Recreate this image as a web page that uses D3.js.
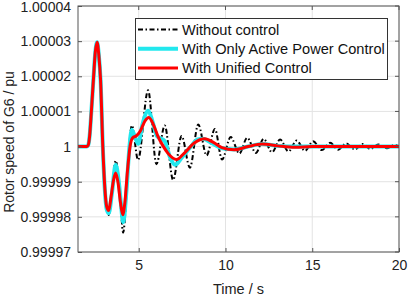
<!DOCTYPE html>
<html><head><meta charset="utf-8">
<script src="https://cdn.jsdelivr.net/npm/d3@7"></script>
<style>body{margin:0;background:#fff}svg{display:block}text{font-family:"Liberation Sans",Arial,sans-serif}</style>
</head><body>
<svg id="c" width="408" height="297"></svg>
<script>
// deviations from 1 pu, in units of 1e-5 pu
const tRed = [1.5,2.0,2.08,2.17,2.27,2.4,2.5,2.6,2.7,2.8,2.93,3.05,3.15,3.27,3.4,3.55,3.67,3.8,3.95,4.08,4.2,4.35,4.5,4.65,4.85,5.1,5.35,5.58,5.85,6.1,6.4,6.7,7.18,7.6,8.2,8.8,9.3,9.8,10.5,11.3,12.1,13,14,15,20];
const dRed = [0,0,0.03,0.3,1.0,2.0,2.7,2.97,2.6,1.9,0,-1.2,-1.7,-1.82,-1.45,-0.95,-0.75,-1.0,-1.6,-1.94,-1.6,-0.7,0.0,0.25,0.3,0.45,0.72,0.83,0.62,0.3,0.02,-0.2,-0.37,-0.2,0.1,0.22,0.12,-0.03,-0.09,0,0.07,0.02,-0.02,0,0];
const tCyan = [1.5,2.0,2.08,2.17,2.27,2.4,2.5,2.6,2.7,2.8,2.93,3.05,3.15,3.27,3.45,3.67,3.85,3.97,4.1,4.3,4.45,4.6,4.8,4.97,5.2,5.55,5.8,6.05,6.5,6.8,7.1,7.5,8.0,8.4,8.7,9.2,9.8,10.5,11.3,12.1,13,14,20];
const dCyan = [0,0,0.03,0.3,1.0,2.0,2.7,2.97,2.6,1.9,0,-1.25,-1.78,-1.9,-1.35,-0.52,-1.0,-1.6,-2.15,-1.2,-0.1,0.48,0.25,0.08,0.6,1.02,0.7,0.3,0.15,-0.3,-0.52,-0.3,0.0,0.2,0.22,0.1,-0.05,-0.08,0,0.07,0.02,0,0];
const tBlack = [1.5,2.0,2.08,2.17,2.27,2.4,2.5,2.6,2.7,2.8,2.93,3.05,3.15,3.27,3.45,3.67,3.85,3.97,4.1,4.3,4.45,4.61,4.96,5.54,6.02,6.5,6.98,7.47,7.95,8.43,8.91,9.39,9.8,10.3,10.8,11.25,11.75,12.2,12.68,13.15,13.63,14.1,14.58,15.05,15.55,16.03,16.5,16.95,17.45,17.9,18.35,18.8,19.3,19.75,20];
const dBlack = [0,0,0.03,0.3,1.0,2.0,2.7,2.97,2.6,1.9,0,-1.25,-1.8,-1.95,-1.3,-0.4,-1.0,-1.75,-2.45,-1.3,0.0,0.6,-0.38,1.6,-0.5,0.6,-0.95,0.3,-0.6,0.63,-0.25,0.5,-0.37,0.27,-0.2,0.25,-0.18,0.22,-0.16,0.2,-0.14,0.17,-0.12,0.15,-0.1,0.11,-0.09,0.09,-0.08,0.07,-0.07,0.06,-0.05,0.05,0];
const xTicks = [5,10,15,20];
const yTicks = [0.99997,0.99998,0.99999,1,1.00001,1.00002,1.00003,1.00004];
const yTickLabels = ["0.99997","0.99998","0.99999","1","1.00001","1.00002","1.00003","1.00004"];
const legendNames = ["Without control","With Only Active Power Control","With Unified Control"];

const svg = d3.select("#c");
const L=78,R=399,T=6,B=252;
const x = d3.scaleLinear().domain([1.5,20]).range([L,R]);
const y = d3.scaleLinear().domain([0.99997,1.00004]).range([B,T]);

// grid
svg.append("g").selectAll("line").data(xTicks).join("line")
  .attr("x1",d=>x(d)).attr("x2",d=>x(d)).attr("y1",T).attr("y2",B)
  .attr("stroke","#e3e3e3").attr("stroke-width",1);
svg.append("g").selectAll("line").data(yTicks).join("line")
  .attr("x1",L).attr("x2",R).attr("y1",d=>y(d)).attr("y2",d=>y(d))
  .attr("stroke","#e3e3e3").attr("stroke-width",1);

const toPts = (ts,ds)=>ts.map((t,i)=>[t,1+ds[i]*1e-5]);
const line = d3.line().x(d=>x(d[0])).y(d=>y(d[1])).curve(d3.curveMonotoneX);
svg.append("clipPath").attr("id","cp").append("rect").attr("x",L).attr("y",T).attr("width",R-L).attr("height",B-T);
const g = svg.append("g").attr("clip-path","url(#cp)");
g.append("path").attr("d",line(toPts(tBlack,dBlack))).attr("fill","none").attr("stroke","#000").attr("stroke-width",2).attr("stroke-dasharray","5,2.5,1.5,2.5");
g.append("path").attr("d",line(toPts(tCyan,dCyan))).attr("fill","none").attr("stroke","#22e8ee").attr("stroke-width",4);
g.append("path").attr("d",line(toPts(tRed,dRed))).attr("fill","none").attr("stroke","#ff0000").attr("stroke-width",3);

// axes
const xAx = d3.axisBottom(x).tickValues(xTicks).tickSizeInner(-4).tickSizeOuter(0).tickPadding(8);
const yAx = d3.axisLeft(y).tickValues(yTicks).tickFormat((d,i)=>yTickLabels[i]).tickSizeInner(-4).tickSizeOuter(0).tickPadding(7);
const gx = svg.append("g").attr("transform",`translate(0,${B})`).call(xAx);
const gy = svg.append("g").attr("transform",`translate(${L},0)`).call(yAx);
[gx,gy].forEach(a=>{a.select(".domain").remove();a.selectAll("line").attr("stroke","#555");a.selectAll("text").attr("font-size",14).attr("fill","#222").attr("font-family","Liberation Sans, Arial, sans-serif");});
gy.selectAll(".tick text").filter(d=>d===1.00004).attr("dy","0.42em");
// right/top ticks
svg.append("g").selectAll("line").data(yTicks).join("line").attr("x1",R).attr("x2",R-4).attr("y1",d=>y(d)).attr("y2",d=>y(d)).attr("stroke","#555");
svg.append("g").selectAll("line").data(xTicks).join("line").attr("x1",d=>x(d)).attr("x2",d=>x(d)).attr("y1",T).attr("y2",T+4).attr("stroke","#555");
svg.append("rect").attr("x",L).attr("y",T).attr("width",R-L).attr("height",B-T).attr("fill","none").attr("stroke","#555").attr("stroke-width",1);

svg.append("text").attr("x",(L+R)/2).attr("y",294).attr("text-anchor","middle").attr("font-size",14.5).attr("fill","#222").text("Time / s");
svg.append("text").attr("transform",`translate(14,142) rotate(-90)`).attr("text-anchor","middle").attr("font-size",14).attr("fill","#222").text("Rotor speed of G6 / pu");

// legend
const lg = svg.append("g");
lg.append("rect").attr("x",135.5).attr("y",18.5).attr("width",252).attr("height",61).attr("fill","#fff").attr("stroke","#333").attr("stroke-width",1);
const lstyles = [{c:"#000",w:2,da:"5,2.5,1.5,2.5"},{c:"#22e8ee",w:4,da:null},{c:"#ff0000",w:3,da:null}];
legendNames.forEach((n,i)=>{
  const yy = 29.5 + i*19.2;
  lg.append("line").attr("x1",138).attr("x2",178).attr("y1",yy).attr("y2",yy).attr("stroke",lstyles[i].c).attr("stroke-width",lstyles[i].w).attr("stroke-dasharray",lstyles[i].da);
  lg.append("text").attr("x",182).attr("y",yy+5.2).attr("font-size",14.6).attr("fill","#111").text(n);
});
</script>
</body></html>
